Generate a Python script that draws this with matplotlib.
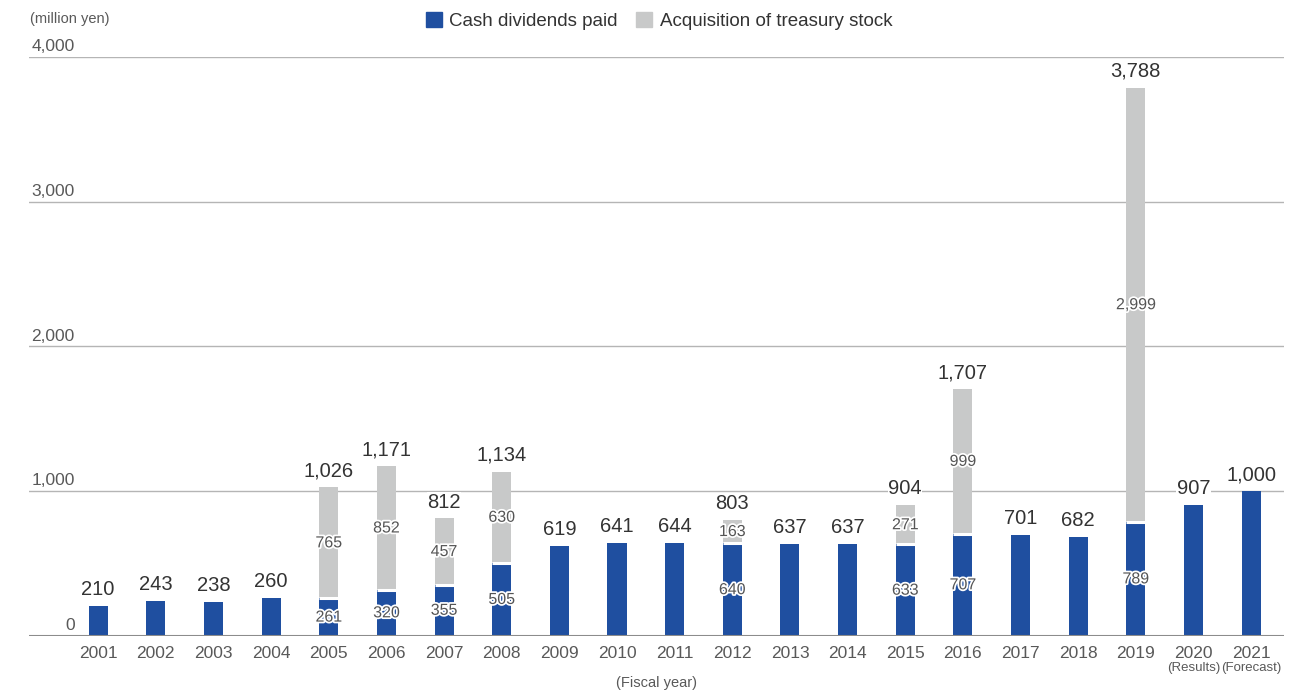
import matplotlib
matplotlib.use("Agg")
import matplotlib.pyplot as plt
import matplotlib.patheffects as pe
from matplotlib.patches import Patch
import numpy as np

plt.rcParams["font.family"] = ["Liberation Sans", "DejaVu Sans"]

years = ["2001", "2002", "2003", "2004", "2005", "2006", "2007", "2008",
         "2009", "2010", "2011", "2012", "2013", "2014", "2015", "2016",
         "2017", "2018", "2019", "2020", "2021"]
dividends = [210, 243, 238, 260, 261, 320, 355, 505, 619, 641, 644, 640,
             637, 637, 633, 707, 701, 682, 789, 907, 1000]
treasury = [0, 0, 0, 0, 765, 852, 457, 630, 0, 0, 0, 163,
            0, 0, 271, 999, 0, 0, 2999, 0, 0]
totals = [210, 243, 238, 260, 1026, 1171, 812, 1134, 619, 641, 644, 803,
          637, 637, 904, 1707, 701, 682, 3788, 907, 1000]
notes = {"2020": "(Results)", "2021": "(Forecast)"}
yticks = [0, 1000, 2000, 3000, 4000]

BLUE = "#1f4fa0"
GRAY = "#c8c9c9"
TXT = "#595959"
DARK = "#333333"

fig = plt.figure(figsize=(13, 6.91), dpi=100)
ax = fig.add_axes([0.0223, 0.0796, 0.9654, 0.838])

x = np.arange(len(years))
w = 0.33
ax.bar(x, dividends, width=w, color=BLUE, linewidth=0, zorder=3)
ax.bar(x, treasury, width=w, bottom=dividends, color=GRAY, linewidth=0, zorder=3)

# thin white separator where the two segments meet
stacked = [i for i in range(len(years)) if treasury[i] > 0]
ax.hlines([dividends[i] for i in stacked], x[stacked] - w / 2, x[stacked] + w / 2,
          colors="white", linewidth=2.2, zorder=4)

ax.set_xlim(-1.2, 20.57)
ax.set_ylim(0, 4000)

# gridlines and baseline
for t in yticks[1:]:
    ax.axhline(t, color="#b5b5b5", linewidth=1.0, zorder=1)
ax.axhline(0, color="#8c8c8c", linewidth=1.5, zorder=5)

for s in ax.spines.values():
    s.set_visible(False)
ax.set_yticks([])
ax.set_xticks(x)
ax.set_xticklabels(years, fontsize=12.5, color=TXT)
ax.tick_params(axis="x", length=0, pad=7)

# y labels sit above each gridline, right-aligned
for t in yticks:
    ax.annotate(f"{t:,}", xy=(0, t), xycoords=("axes fraction", "data"),
                xytext=(33, 2), textcoords="offset points",
                ha="right", va="bottom", fontsize=12.5, color=TXT)

stroke = [pe.withStroke(linewidth=2.5, foreground="white")]
for i in stacked:
    ax.text(x[i], dividends[i] / 2, f"{dividends[i]:,}", ha="center",
            va="center", fontsize=11.5, color="#555555",
            path_effects=stroke, zorder=6)
    ax.text(x[i], dividends[i] + treasury[i] / 2, f"{treasury[i]:,}",
            ha="center", va="center", fontsize=11.5, color="#555555",
            path_effects=stroke, zorder=6)
for i in range(len(years)):
    ax.annotate(f"{totals[i]:,}", xy=(x[i], dividends[i] + treasury[i]),
                xytext=(0, 5), textcoords="offset points", ha="center",
                va="bottom", fontsize=14.5, color=DARK, zorder=6,
                bbox=dict(boxstyle="square,pad=0.02", fc="white", ec="none"))

for yr, note in notes.items():
    i = years.index(yr)
    ax.annotate(note, xy=(x[i], 0), xytext=(0, -19), textcoords="offset points",
                ha="center", va="top", fontsize=9.5, color=TXT)

fig.text(0.0231, 0.973, "(million yen)", fontsize=10.5, color=TXT,
         ha="left", va="center")
fig.text(0.505, 0.012, "(Fiscal year)", fontsize=10.5, color=TXT,
         ha="center", va="center")

handles = [Patch(color=BLUE, label="Cash dividends paid"),
           Patch(color=GRAY, label="Acquisition of treasury stock")]
fig.legend(handles=handles, loc="center", bbox_to_anchor=(0.507, 0.969),
           ncol=2, frameon=False, fontsize=13.5, handlelength=0.85,
           handleheight=0.85, handletextpad=0.4, columnspacing=1.0,
           labelcolor=DARK)

fig.savefig("out.png", dpi=100)
